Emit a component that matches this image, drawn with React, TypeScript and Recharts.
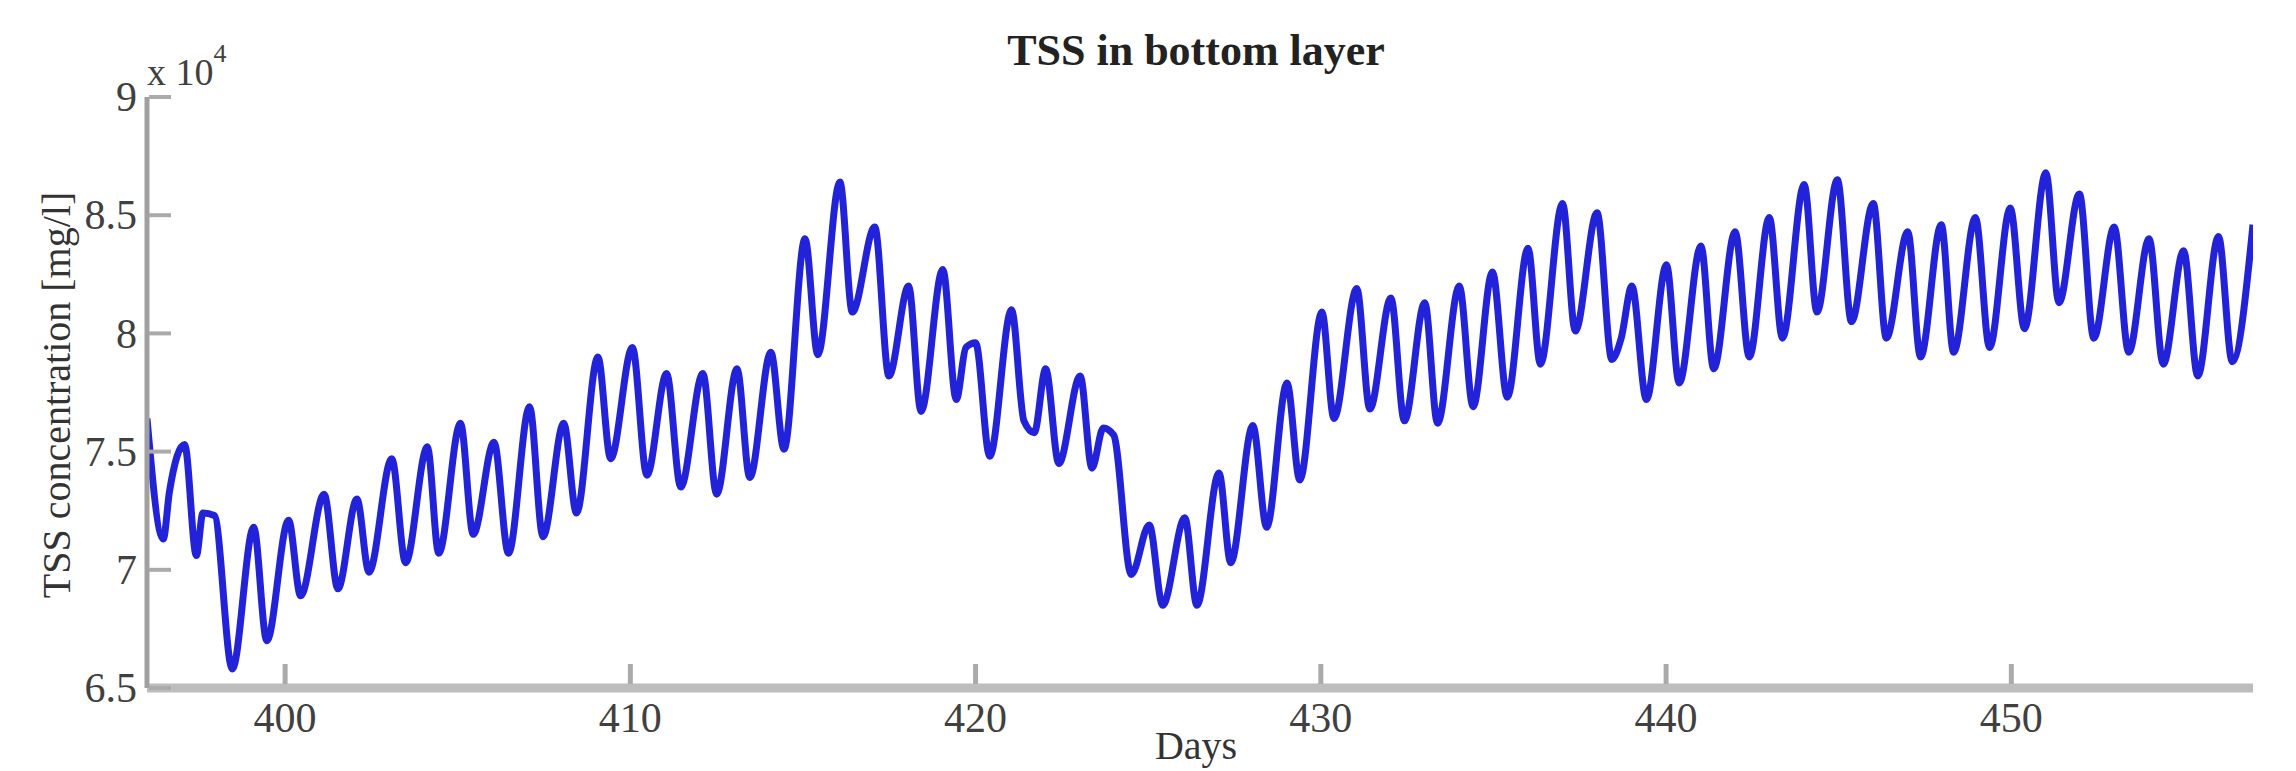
import React from 'react';
import { LineChart, Line, XAxis, YAxis } from 'recharts';

// Time (days) of each sample
const days: number[] = [
  396.0, 396.47, 396.65, 397.09, 397.43, 397.62, 397.95, 398.47, 399.09, 399.47,
  400.1, 400.45, 401.13, 401.53, 402.08, 402.43, 403.09, 403.49, 404.12, 404.45,
  405.08, 405.45, 406.05, 406.47, 407.08, 407.47, 408.07, 408.44, 409.06, 409.43,
  410.06, 410.48, 411.05, 411.46, 412.1, 412.5, 413.09, 413.46, 414.07, 414.45,
  415.06, 415.43, 416.07, 416.43, 417.08, 417.49, 418.06, 418.42, 419.05, 419.44,
  419.72, 420.0, 420.41, 421.04, 421.4, 421.7, 422.03, 422.41, 423.03, 423.37,
  423.7, 424.0, 424.51, 425.03, 425.42, 426.06, 426.41, 427.05, 427.39, 428.03,
  428.43, 429.02, 429.39, 430.03, 430.38, 431.04, 431.42, 432.03, 432.42, 433.01,
  433.38, 434.01, 434.41, 434.97, 435.4, 436.0, 436.36, 437.0, 437.37, 438.0,
  438.43, 438.7, 439.01, 439.43, 440.01, 440.38, 441.01, 441.38, 442.0, 442.41,
  442.99, 443.37, 444.0, 444.37, 444.96, 445.37, 446.0, 446.38, 447.0, 447.37,
  447.97, 448.33, 448.96, 449.37, 449.97, 450.38, 451.0, 451.38, 451.97, 452.39,
  452.98, 453.4, 453.99, 454.4, 454.99, 455.4, 456.0, 456.4, 457.0,
];

// TSS concentration [mg/l]
const tssValues: number[] = [
  76400, 71300, 73300, 75300, 70600, 72400, 72300, 65800, 71800, 67000,
  72100, 68900, 73200, 69200, 73000, 69900, 74700, 70300, 75200, 70700,
  76200, 71500, 75400, 70700, 76900, 71400, 76200, 72400, 79000, 74700,
  79400, 74000, 78300, 73500, 78300, 73200, 78500, 73900, 79200, 75100,
  84000, 79100, 86400, 80900, 84500, 78200, 82000, 76700, 82700, 77200,
  79400, 79600, 74800, 81000, 76300, 75800, 78500, 74500, 78200, 74300,
  76000, 75700, 69800, 71900, 68500, 72200, 68500, 74100, 70300, 76100,
  71800, 77900, 73800, 80900, 76400, 81900, 76800, 81500, 76300, 81300,
  76200, 82000, 76900, 82600, 77300, 83600, 78700, 85500, 80100, 85100,
  78900, 79800, 82000, 77200, 82900, 77900, 83700, 78500, 84300, 79000,
  84900, 79800, 86300, 80900, 86500, 80500, 85500, 79800, 84300, 79000,
  84600, 79200, 84900, 79400, 85300, 80200, 86800, 81300, 85900, 79800,
  84500, 79200, 84000, 78700, 83500, 78200, 84100, 78800, 84600,
];

const xTicks: number[] = [400, 410, 420, 430, 440, 450];
const yTicks: number[] = [65000, 70000, 75000, 80000, 85000, 90000];
const yTickLabels: string[] = ['6.5', '7', '7.5', '8', '8.5', '9'];

const titleText = 'TSS in bottom layer';
const xLabelText = 'Days';
const yLabelText = 'TSS concentration [mg/l]';

const data = days.map((d, i) => ({ day: d, tss: tssValues[i] }));

const FONT = '"Liberation Serif", "DejaVu Serif", serif';
const TICK_COLOR = '#aaaaaa';
const TEXT_COLOR = '#404040';

const XTick = (props: any) => {
  const { x, y, payload } = props;
  return (
    <g>
      <line x1={x} x2={x} y1={y - 4} y2={y - 24} stroke={TICK_COLOR} strokeWidth={5} />
      <text x={x} y={y + 44} textAnchor="middle" fontFamily={FONT} fontSize={42} fill={TEXT_COLOR}>
        {payload.value}
      </text>
    </g>
  );
};

const YTick = (props: any) => {
  const { x, y, payload } = props;
  const idx = yTicks.indexOf(payload.value);
  const label = idx >= 0 ? yTickLabels[idx] : String(payload.value / 10000);
  return (
    <g>
      <line x1={x + 2} x2={x + 24} y1={y} y2={y} stroke={TICK_COLOR} strokeWidth={4} />
      <text x={x - 10} y={y} dy="0.34em" textAnchor="end" fontFamily={FONT} fontSize={42} fill={TEXT_COLOR}>
        {label}
      </text>
    </g>
  );
};

export default function App() {
  return (
    <div style={{ position: 'absolute', left: 0, top: 0, width: 2296, height: 771, background: '#ffffff' }}>
      <LineChart
        width={2296}
        height={771}
        data={data}
        margin={{ top: 97, right: 43, bottom: 0, left: 0 }}
      >
        <XAxis
          dataKey="day"
          type="number"
          domain={[396, 457]}
          ticks={xTicks}
          allowDataOverflow
          height={83}
          tickSize={0}
          tickMargin={0}
          tickLine={false}
          axisLine={{ stroke: '#bdbdbd', strokeWidth: 9 }}
          tick={<XTick />}
          interval={0}
        />
        <YAxis
          type="number"
          domain={[65000, 90000]}
          ticks={yTicks}
          allowDataOverflow
          width={147}
          tickSize={0}
          tickMargin={0}
          tickLine={false}
          axisLine={{ stroke: '#a0a0a0', strokeWidth: 5 }}
          tick={<YTick />}
          interval={0}
        />
        <Line
          type="monotone"
          dataKey="tss"
          stroke="#2222d8"
          strokeWidth={7}
          strokeLinejoin="round"
          dot={false}
          activeDot={false}
          isAnimationActive={false}
        />
      </LineChart>
      <svg
        width={2296}
        height={771}
        style={{ position: 'absolute', left: 0, top: 0, pointerEvents: 'none' }}
      >
        <text x={1196} y={65} textAnchor="middle" fontFamily={FONT} fontWeight="bold" fontSize={44} fill="#222222">
          {titleText}
        </text>
        <text x={147} y={85} fontFamily={FONT} fontSize={38} fill={TEXT_COLOR}>
          x 10
          <tspan fontSize={26} dy={-23}>4</tspan>
        </text>
        <text x={1196} y={759} textAnchor="middle" fontFamily={FONT} fontSize={40} fill="#333333">
          {xLabelText}
        </text>
        <text
          transform="translate(70,395) rotate(-90)"
          textAnchor="middle"
          fontFamily={FONT}
          fontSize={40}
          fill="#333333"
        >
          {yLabelText}
        </text>
      </svg>
    </div>
  );
}
